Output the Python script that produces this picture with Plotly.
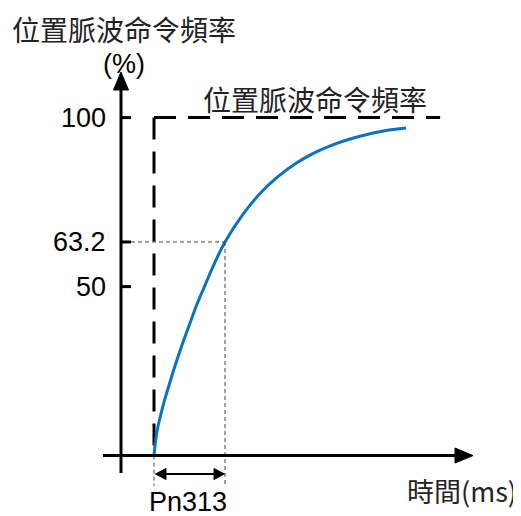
import plotly.graph_objects as go

# ---- data (time in units of Pn313, frequency in %) ----
t_units = [0, 0.02, 0.05, 0.1, 0.15, 0.2, 0.3, 0.4, 0.5, 0.6, 0.7, 0.85, 1.0,
           1.25, 1.5, 1.75, 2.0, 2.25, 2.5, 2.75, 3.0, 3.25, 3.55]
freq_pct = [0, 4.0, 8.0, 12.5, 16.5, 20.0, 26.8, 33.0, 38.8, 44.5, 49.5, 56.8, 63.2,
            71.3, 77.7, 82.6, 86.5, 89.5, 91.8, 93.6, 95.0, 96.1, 96.9]

cmd_t = [0, 0, 4.03]
cmd_pct = [0, 100, 100]

tick_vals = [100, 63.2, 50]
tick_text = ["100", "63.2", "50"]
tau_point = (1.0, 63.2)

title_text = "位置脈波命令頻率"
unit_text = "(%)"
cmd_label = "位置脈波命令頻率"
xlabel_text = "時間(ms)"
param_label = "Pn313"

# ---- pixel <-> data mapping ----
# the page body has an 8 px margin, so the figure starts at (8, 8) of the window
OFF = 8
WIN_W, WIN_H = 521, 516
W, H = WIN_W - OFF, WIN_H - OFF
X0, SX = 154.0, 71.0      # window pixel of t=0, pixels per unit
Y0, SY = 455.6, 3.38      # window pixel of 0 %, pixels per %


def dx(px):
    return (px - X0) / SX


def dy(py):
    return (Y0 - py) / SY


BLACK = "#000000"
BLUE = "#0a72c4"
GRAY = "#444444"
LAT = "Liberation Sans, Arial, Noto Sans CJK TC, sans-serif"
CJK = "Noto Sans CJK TC, Liberation Sans, sans-serif"

fig = go.Figure()

# command step (dashed)
fig.add_trace(go.Scatter(x=cmd_t[1::-1], y=cmd_pct[1::-1], mode="lines",
                         line=dict(color=BLACK, width=3, dash="22px,12px"),
                         hoverinfo="skip", showlegend=False))
fig.add_trace(go.Scatter(x=cmd_t[1:], y=cmd_pct[1:], mode="lines",
                         line=dict(color=BLACK, width=3, dash="22px,12px"),
                         hoverinfo="skip", showlegend=False))

# response curve
fig.add_trace(go.Scatter(x=t_units, y=freq_pct, mode="lines",
                         line=dict(color=BLUE, width=3, shape="spline", smoothing=1.0),
                         hoverinfo="skip", showlegend=False))

shapes = []
# thin guide lines
shapes.append(dict(type="line", x0=dx(131), x1=tau_point[0], y0=tau_point[1], y1=tau_point[1],
                   line=dict(color=GRAY, width=1, dash="4px,3px")))
shapes.append(dict(type="line", x0=tau_point[0], x1=tau_point[0], y0=tau_point[1], y1=dy(486),
                   line=dict(color=GRAY, width=1, dash="4px,3px")))
shapes.append(dict(type="line", x0=0, x1=0, y0=0, y1=dy(486),
                   line=dict(color=GRAY, width=1, dash="4px,3px")))

# axes
shapes.append(dict(type="line", x0=dx(103), x1=dx(458), y0=0, y1=0,
                   line=dict(color=BLACK, width=3)))
shapes.append(dict(type="line", x0=dx(121), x1=dx(121), y0=dy(473), y1=dy(86),
                   line=dict(color=BLACK, width=3)))
# arrow heads
shapes.append(dict(type="path",
                   path=f"M {dx(455)},{dy(448)} L {dx(473)},{dy(455.6)} L {dx(455)},{dy(463)} Z",
                   fillcolor=BLACK, line=dict(color=BLACK, width=1)))
shapes.append(dict(type="path",
                   path=f"M {dx(113.5)},{dy(90)} L {dx(121)},{dy(72)} L {dx(128.5)},{dy(90)} Z",
                   fillcolor=BLACK, line=dict(color=BLACK, width=1)))
# y ticks
for v in tick_vals:
    shapes.append(dict(type="line", x0=dx(121), x1=dx(131), y0=v, y1=v,
                       line=dict(color=BLACK, width=3)))

# double arrow for Pn313
ya = dy(474)
shapes.append(dict(type="line", x0=dx(163), x1=dx(217), y0=ya, y1=ya,
                   line=dict(color=BLACK, width=2)))
shapes.append(dict(type="path",
                   path=f"M {dx(166)},{dy(468.5)} L {dx(155.5)},{ya} L {dx(166)},{dy(479.5)} Z",
                   fillcolor=BLACK, line=dict(color=BLACK, width=1)))
shapes.append(dict(type="path",
                   path=f"M {dx(214)},{dy(468.5)} L {dx(224.5)},{ya} L {dx(214)},{dy(479.5)} Z",
                   fillcolor=BLACK, line=dict(color=BLACK, width=1)))

annotations = []
for v, s in zip(tick_vals, tick_text):
    annotations.append(dict(x=dx(108), y=v, text=s, showarrow=False, xanchor="right",
                            yanchor="middle", font=dict(family=LAT, size=27, color=BLACK)))
annotations.append(dict(x=dx(10), y=dy(29), text=title_text, showarrow=False, xanchor="left",
                        yanchor="middle", font=dict(family=CJK, size=28, color="#222222")))
annotations.append(dict(x=dx(124), y=dy(64), text=unit_text, showarrow=False, xanchor="center",
                        yanchor="middle", font=dict(family=LAT, size=27, color=BLACK)))
annotations.append(dict(x=dx(201), y=dy(99), text=cmd_label, showarrow=False, xanchor="left",
                        yanchor="middle", font=dict(family=CJK, size=28, color="#222222")))
annotations.append(dict(x=dx(188), y=dy(502), text=param_label, showarrow=False, xanchor="center",
                        yanchor="middle", font=dict(family=LAT, size=27, color=BLACK)))
annotations.append(dict(x=dx(519), y=dy(490), text=xlabel_text, showarrow=False, xanchor="right",
                        yanchor="middle", font=dict(family=CJK, size=27, color="#222222")))

fig.update_layout(
    width=W, height=H,
    margin=dict(l=0, r=0, t=0, b=0),
    paper_bgcolor="white", plot_bgcolor="white",
    xaxis=dict(range=[dx(OFF), dx(WIN_W)], visible=False, fixedrange=True),
    yaxis=dict(range=[dy(WIN_H), dy(OFF)], visible=False, fixedrange=True),
    shapes=shapes, annotations=annotations,
    showlegend=False,
)

fig.write_html("out.html")
